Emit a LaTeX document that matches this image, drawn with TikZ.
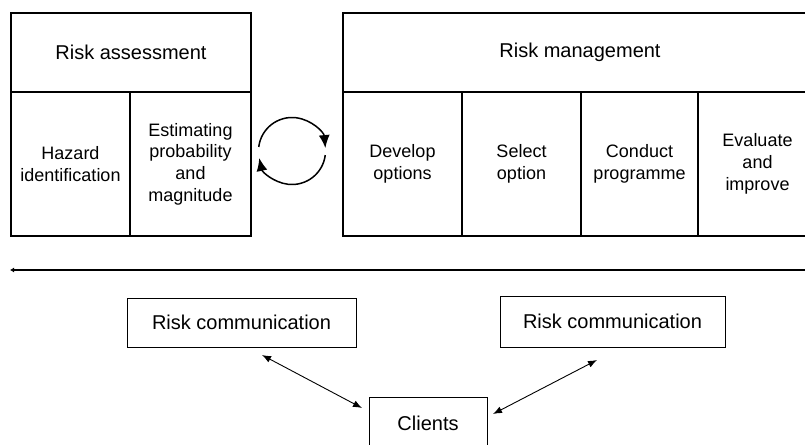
\documentclass[tikz,border=0pt]{standalone}
\usepackage{fontspec}
\setmainfont{Liberation Sans}
\usetikzlibrary{arrows.meta}
\tikzset{
  cell/.style={draw, line width=1.2pt, inner sep=0pt, align=center,
    font=\fontsize{18}{21.7}\selectfont},
  head/.style={cell, font=\fontsize{20}{24}\selectfont},
  commbox/.style={draw, line width=1pt, inner sep=0pt, align=center,
    font=\fontsize{20}{24}\selectfont},
  cyc/.style={line width=1.5pt, -{Latex[length=13pt,width=11pt]}},
  dbl/.style={line width=0.9pt, {Latex[length=9pt,width=7pt]}-{Latex[length=9pt,width=7pt]}},
  sep/.style={line width=1.6pt, {Latex[length=4pt,width=5pt]}-},
}
\begin{document}
\begin{tikzpicture}[x=1pt,y=1pt]
\useasboundingbox (0,0) rectangle (805,-444);
\clip (0,0) rectangle (805,-444);
% Risk assessment
\node[head, minimum width=240pt, minimum height=79pt] (ra) at (131,-52.5) {Risk assessment};
\node[cell, minimum width=119pt, minimum height=144pt] (hz) at (70.5,-164) {Hazard\\identification};
\node[cell, minimum width=121pt, minimum height=144pt] (est) at (190.5,-164) {Estimating\\probability\\and\\magnitude};
% Risk management
\node[head, minimum width=474pt, minimum height=79pt] (rm) at (580,-52.5) {Risk management};
\node[cell, minimum width=119pt, minimum height=144pt] (dev) at (402.5,-164) {Develop\\options};
\node[cell, minimum width=119pt, minimum height=144pt] (sel) at (521.5,-164) {Select\\option};
\node[cell, minimum width=117pt, minimum height=144pt] (con) at (639.5,-164) {Conduct\\programme};
\node[cell, minimum width=119pt, minimum height=144pt] (eva) at (757.5,-164) {Evaluate\\and\\improve};
% cycle arrows
\coordinate (cc) at (292,-151);
\draw[cyc] (cc) ++(173:33.5pt) arc[start angle=173, end angle=5, radius=33.5pt];
\draw[cyc] (cc) ++(-7:33.5pt) arc[start angle=-7, end angle=-168, radius=33.5pt];
% separator
\coordinate (sl) at (10,-270);
\coordinate (sr) at (806,-270);
\draw[sep] (sl) -- (sr);
% communication
\node[commbox, minimum width=229pt, minimum height=49pt] (rc1) at (241.5,-322.5) {Risk communication};
\node[commbox, minimum width=225pt, minimum height=51pt] (rc2) at (612.5,-321.5) {Risk communication};
\node[commbox, minimum width=118pt, minimum height=52pt] (cl) at (428,-423) {Clients};
\coordinate (a1) at (262,-355);
\coordinate (a2) at (362,-408);
\coordinate (b1) at (597,-360);
\coordinate (b2) at (493,-414);
\draw[dbl] (a1) -- (a2);
\draw[dbl] (b1) -- (b2);
\end{tikzpicture}
\end{document}
